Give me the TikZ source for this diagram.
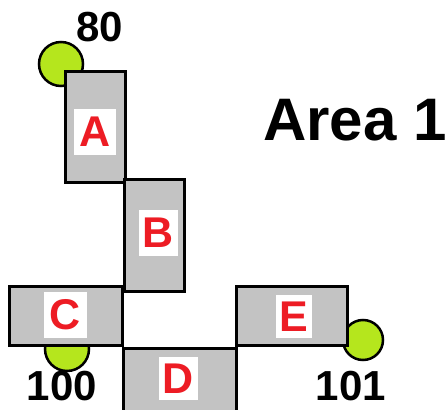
\documentclass[tikz,border=0pt]{standalone}
\usepackage{fontspec}
\setmainfont{DejaVu Sans}
\newfontfamily\numfont{Liberation Sans}
\usepackage{tikz}

\begin{document}
\begin{tikzpicture}[x=1pt,y=-1pt,
  room/.style={draw,line width=3pt,fill=boxgray,inner sep=0pt},
  tag/.style={fill=white,inner sep=0pt,text=tagred,font=\numfont\bfseries\fontsize{43}{43}\selectfont},
  door/.style={draw,line width=2.5pt,fill=doorgreen},
  num/.style={inner sep=0pt,font=\numfont\bfseries\fontsize{42}{42}\selectfont}]
\definecolor{boxgray}{RGB}{195,195,195}
\definecolor{doorgreen}{RGB}{181,230,29}
\definecolor{tagred}{RGB}{237,28,36}
\useasboundingbox (0,0) rectangle (448,410);
% doors
\draw[door] (61,64) circle (22);
\draw[door] (67,349) circle (22);
\draw[door] (363,340) circle (20);
% rooms
\node[room,minimum width=60,minimum height=111] (roomA) at (95,126.5) {};
\node[room,minimum width=60,minimum height=112] (roomB) at (154,235) {};
\node[room,minimum width=113,minimum height=59] (roomC) at (65.5,315.5) {};
\node[room,minimum width=113,minimum height=64] (roomD) at (179.5,380) {};
\node[room,minimum width=111,minimum height=59] (roomE) at (291.5,315.5) {};
% labels
\node[tag,minimum width=42,minimum height=46] (tagA) at (95,132) {A};
\node[tag,minimum width=39,minimum height=46] (tagB) at (158.5,233) {B};
\node[tag,minimum width=43,minimum height=46] (tagC) at (65.5,315) {C};
\node[tag,minimum width=39,minimum height=43] (tagD) at (178.5,378.5) {D};
\node[tag,minimum width=36,minimum height=43] (tagE) at (294,316.5) {E};
\node[num] (n80) at (100,27) {80};
\node[num] (n100) at (62,386) {100};
\node[num] (n101) at (351,386) {101};
\node[font=\numfont\bfseries\fontsize{60}{60}\selectfont] (area) at (355,120) {Area 1};
\end{tikzpicture}
\end{document}
